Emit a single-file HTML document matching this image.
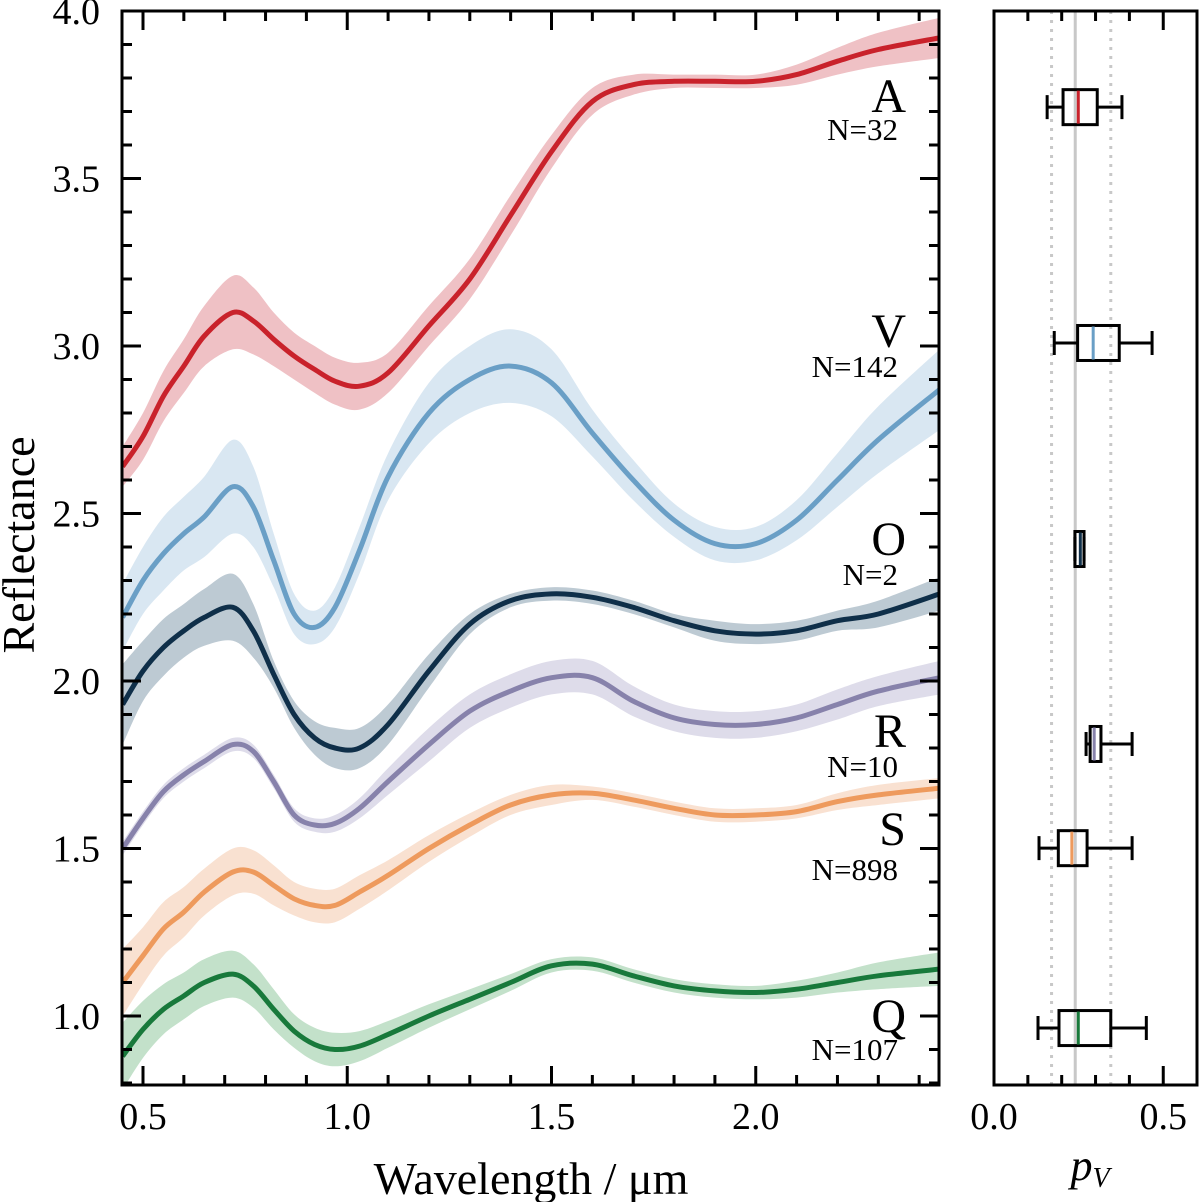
<!DOCTYPE html>
<html><head><meta charset="utf-8">
<style>
html,body{margin:0;padding:0;background:#fff;}
svg{display:block;font-family:"Liberation Serif",serif;}
</style></head>
<body>
<svg id="chart" width="1200" height="1202" viewBox="0 0 1200 1202" xmlns="http://www.w3.org/2000/svg">
<defs><clipPath id="clipMain"><rect x="122" y="11" width="817" height="1074"/></clipPath></defs>
<g id="main-bands" clip-path="url(#clipMain)"></g>
<g id="main-lines" clip-path="url(#clipMain)"></g>
<g id="main-axes"></g>
<g id="side"></g>
<text x="0" y="0" font-size="46" text-anchor="middle" transform="translate(34,545) rotate(-90)">Reflectance</text>
<text x="531" y="1194" font-size="46" text-anchor="middle">Wavelength / μm</text>
<text x="1090" y="1180" font-size="44" text-anchor="middle" font-style="italic">p<tspan font-size="28" dy="7">V</tspan></text>
</svg>
<script>
const wavelengths = [0.45,0.5,0.55,0.6,0.65,0.72,0.77,0.82,0.87,0.92,0.97,1.03,1.1,1.2,1.3,1.4,1.5,1.6,1.7,1.8,1.9,2.0,2.1,2.2,2.3,2.45];
const classNames = ["A","V","O","R","S","Q"];
const classCounts = ["N=32","N=142","N=2","N=10","N=898","N=107"];
const specA = [2.64,2.73,2.85,2.94,3.03,3.10,3.075,3.02,2.97,2.93,2.895,2.88,2.92,3.06,3.20,3.39,3.58,3.73,3.78,3.79,3.79,3.79,3.81,3.85,3.885,3.92];
const specV = [2.19,2.30,2.38,2.44,2.49,2.58,2.52,2.36,2.20,2.16,2.22,2.39,2.61,2.80,2.90,2.94,2.89,2.74,2.60,2.48,2.41,2.41,2.48,2.60,2.72,2.87];
const specO = [1.93,2.03,2.10,2.15,2.19,2.22,2.15,2.02,1.90,1.83,1.80,1.80,1.87,2.03,2.17,2.24,2.26,2.25,2.22,2.18,2.15,2.14,2.15,2.18,2.20,2.26];
const specR = [1.50,1.59,1.67,1.72,1.76,1.81,1.79,1.70,1.60,1.57,1.575,1.62,1.70,1.81,1.91,1.97,2.01,2.01,1.94,1.89,1.87,1.87,1.89,1.93,1.97,2.01];
const specS = [1.10,1.18,1.26,1.31,1.37,1.43,1.43,1.39,1.35,1.33,1.33,1.37,1.42,1.50,1.57,1.63,1.66,1.665,1.645,1.62,1.60,1.60,1.61,1.64,1.66,1.68];
const specQ = [0.88,0.96,1.02,1.06,1.10,1.125,1.09,1.02,0.955,0.915,0.90,0.91,0.945,1.00,1.05,1.10,1.15,1.155,1.12,1.09,1.075,1.07,1.08,1.10,1.12,1.14];
const stdA = [0.06,0.07,0.075,0.08,0.09,0.11,0.10,0.08,0.07,0.07,0.07,0.07,0.06,0.06,0.06,0.06,0.05,0.04,0.03,0.02,0.02,0.02,0.03,0.04,0.05,0.06];
const stdV = [0.10,0.10,0.11,0.11,0.12,0.14,0.12,0.08,0.06,0.05,0.06,0.07,0.07,0.09,0.10,0.11,0.10,0.07,0.06,0.05,0.05,0.05,0.06,0.08,0.10,0.12];
const stdO = [0.12,0.09,0.085,0.08,0.085,0.10,0.08,0.04,0.04,0.05,0.06,0.06,0.06,0.05,0.03,0.02,0.02,0.02,0.02,0.02,0.03,0.03,0.03,0.03,0.04,0.05];
const stdR = [0.02,0.02,0.02,0.02,0.02,0.02,0.02,0.02,0.02,0.02,0.025,0.03,0.04,0.05,0.05,0.05,0.05,0.05,0.045,0.04,0.04,0.04,0.04,0.045,0.045,0.05];
const stdS = [0.10,0.085,0.08,0.075,0.07,0.07,0.065,0.06,0.05,0.05,0.05,0.05,0.045,0.04,0.035,0.03,0.03,0.02,0.02,0.02,0.02,0.02,0.02,0.025,0.03,0.03];
const stdQ = [0.10,0.085,0.075,0.07,0.07,0.07,0.065,0.06,0.05,0.05,0.05,0.045,0.04,0.035,0.03,0.025,0.02,0.02,0.02,0.02,0.02,0.02,0.025,0.03,0.04,0.05];
const xTickLabels = ["0.5","1.0","1.5","2.0"];
const yTickLabels = ["1.0","1.5","2.0","2.5","3.0","3.5","4.0"];
const pvTickLabels = ["0.0","0.5"];
// albedo boxplots: whisker low, q1, median, q3, whisker high
const pvLow = [0.157,0.178,0.239,0.272,0.133,0.13];
const pvQ1 = [0.204,0.247,0.239,0.284,0.19,0.192];
const pvMed = [0.249,0.293,0.255,0.296,0.23,0.249];
const pvQ3 = [0.305,0.37,0.266,0.316,0.275,0.345];
const pvHigh = [0.378,0.467,0.266,0.408,0.408,0.45];
const pvRowLevel = [3.713,3.009,2.394,1.812,1.501,0.964];
const pvRefLines = [0.17,0.24,0.345];

const NS="http://www.w3.org/2000/svg";
const lineColors=["#c9222b","#6a9fc6","#0f2f49","#8782ab","#ee9a5d","#18793b"];
const bandColors=["#efc1c5","#d9e7f2","#bdcad3","#dedcea","#f9e1d1","#c3e1ca"];
const specs=[specA,specV,specO,specR,specS,specQ];
const stds=[stdA,stdV,stdO,stdR,stdS,stdQ];
const X0=122,X1=939,Y0=11,Y1=1085;
function sx(w){return 143+(w-0.5)*408.5;}
function sy(v){return 11+(4-v)*335;}
function px(v){return 994+v*338.5;}
function mk(tag,attrs,parent){const e=document.createElementNS(NS,tag);for(const k in attrs)e.setAttribute(k,attrs[k]);parent.appendChild(e);return e;}
function smooth(pts){let d="M"+pts[0][0].toFixed(1)+","+pts[0][1].toFixed(1);
 for(let i=0;i<pts.length-1;i++){const p0=pts[i-1]||pts[i],p1=pts[i],p2=pts[i+1],p3=pts[i+2]||p2;
  const c1=[p1[0]+(p2[0]-p0[0])/6,p1[1]+(p2[1]-p0[1])/6],c2=[p2[0]-(p3[0]-p1[0])/6,p2[1]-(p3[1]-p1[1])/6];
  d+="C"+c1[0].toFixed(1)+","+c1[1].toFixed(1)+" "+c2[0].toFixed(1)+","+c2[1].toFixed(1)+" "+p2[0].toFixed(1)+","+p2[1].toFixed(1);}
 return d;}
const gB=document.getElementById("main-bands"),gL=document.getElementById("main-lines"),gA=document.getElementById("main-axes"),gS=document.getElementById("side");
specs.forEach((s,k)=>{
 const up=wavelengths.map((w,i)=>[sx(w),sy(s[i]+stds[k][i])]);
 const lo=wavelengths.map((w,i)=>[sx(w),sy(s[i]-stds[k][i])]).reverse();
 const d=smooth(up)+"L"+smooth(lo).slice(1)+"Z";
 const band=mk("path",{d:d,fill:bandColors[k],stroke:"none"},gB);
 
 
});
specs.forEach((s,k)=>{
 const pts=wavelengths.map((w,i)=>[sx(w),sy(s[i])]);
 const ln=mk("path",{d:smooth(pts),fill:"none",stroke:lineColors[k],"stroke-width":5,"stroke-linejoin":"round"},gL);
 
 
});
// labels
const letterBase=[112,347,555,747,845,1032],countBase=[140,377,585,777,880,1060];
classNames.forEach((c,k)=>{
 const t=mk("text",{x:906,y:letterBase[k],"font-size":48,"text-anchor":"end"},gA);t.textContent=c;
 
 
 const n=mk("text",{x:898,y:countBase[k],"font-size":31,"text-anchor":"end"},gA);n.textContent=classCounts[k];
 
 
});
// main frame & ticks
const fr=mk("rect",{x:X0,y:Y0,width:X1-X0,height:Y1-Y0,fill:"none",stroke:"#000","stroke-width":3},gA);


let td="";
for(let i=5;i<=24;i++){const w=i/10,x=sx(w);if(x<X0+1||x>X1-1)continue;const L=(i%5==0)?19:10;td+=`M${x},${Y1}v${-L}M${x},${Y0}v${L}`;}
for(let i=8;i<=40;i++){const v=i/10,y=sy(v);if(y<Y0+1||y>Y1-1)continue;const L=(i%5==0)?19:10;td+=`M${X0},${y}h${L}M${X1},${y}h${-L}`;}
const tk=mk("path",{d:td,stroke:"#000","stroke-width":3,fill:"none"},gA);


xTickLabels.forEach(l=>{const t=mk("text",{x:sx(parseFloat(l)),y:1129,"font-size":38,"text-anchor":"middle"},gA);t.textContent=l;
 
 });
yTickLabels.forEach(l=>{const t=mk("text",{x:100,y:sy(parseFloat(l))+13,"font-size":38,"text-anchor":"end"},gA);t.textContent=l;
 
 });
// side panel
pvRefLines.forEach((v,i)=>{const a={x1:px(v),x2:px(v),y1:Y0,y2:Y1,stroke:"#c8c8c8","stroke-width":3};if(i!=1)a["stroke-dasharray"]="3,6";
 const l=mk("line",a,gS);
 
 });
pvMed.forEach((m,k)=>{const yc=sy(pvRowLevel[k]),h=17.5;
 const g=mk("g",{},gS);
 
 
 mk("path",{d:`M${px(pvLow[k])},${yc}H${px(pvQ1[k])}M${px(pvQ3[k])},${yc}H${px(pvHigh[k])}M${px(pvLow[k])},${yc-12}v24M${px(pvHigh[k])},${yc-12}v24`,stroke:"#000","stroke-width":3,fill:"none"},g);
 mk("rect",{x:px(pvQ1[k]),y:yc-h,width:px(pvQ3[k])-px(pvQ1[k]),height:2*h,fill:"none",stroke:"#000","stroke-width":3},g);
 mk("line",{x1:px(m),x2:px(m),y1:yc-h+1,y2:yc+h-1,stroke:lineColors[k],"stroke-width":3},g);
});
const fr2=mk("rect",{x:994,y:Y0,width:203,height:Y1-Y0,fill:"none",stroke:"#000","stroke-width":3},gS);


let td2="";for(let i=1;i<=5;i++){const x=px(i/10),L=(i==5)?19:10;td2+=`M${x},${Y1}v${-L}M${x},${Y0}v${L}`;}
const tk2=mk("path",{d:td2,stroke:"#000","stroke-width":3},gS);


pvTickLabels.forEach(l=>{const t=mk("text",{x:px(parseFloat(l)),y:1129,"font-size":38,"text-anchor":"middle"},gS);t.textContent=l;
 
 });
</script>
</body></html>
